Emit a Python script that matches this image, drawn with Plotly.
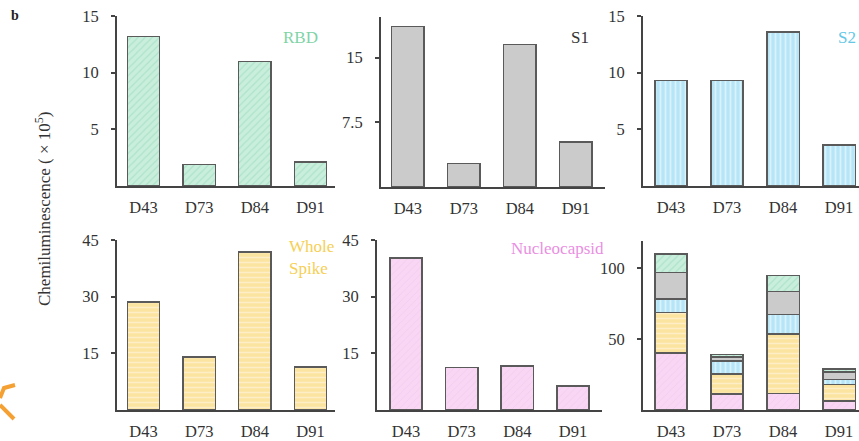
import plotly.graph_objects as go

# ---------------- data ----------------
categories = ["D43", "D73", "D84", "D91"]
rbd = [13.2, 1.9, 11.0, 2.1]
s1 = [18.6, 2.7, 16.5, 5.2]
s2 = [9.3, 9.3, 13.6, 3.6]
whole_spike = [28.6, 14.0, 41.8, 11.4]
nucleocapsid = [40.2, 11.2, 11.7, 6.4]

ticks_rbd = [5, 10, 15]
ticks_s1 = [7.5, 15]
ticks_s2 = [5, 10, 15]
ticks_ws = [15, 30, 45]
ticks_n = [15, 30, 45]
ticks_total = [50, 100]

W, H = 859, 441
FONT = "Liberation Serif"


def px(x):
    return x / W


def py(y):
    return 1 - y / H


styles = {
    "RBD": dict(bg="#c9efdc", fg="#93d6b5", shape="/", size=5, sol=0.25),
    "S1": dict(bg="#cbcbcb", fg="#cbcbcb", shape="", size=6, sol=0.2),
    "S2": dict(bg="#b5e5f6", fg="#ffffff", shape="|", size=5, sol=0.35),
    "WS": dict(bg="#fbe3a0", fg="#fffaf0", shape="-", size=5, sol=0.3),
    "N": dict(bg="#f8d6f4", fg="#efc2ea", shape="/", size=5, sol=0.15),
}


def bar(name, vals, key, xa, ya):
    st = styles[key]
    return go.Bar(
        x=categories, y=vals, name=name, xaxis=xa, yaxis=ya, width=0.58,
        showlegend=False,
        marker=dict(
            color=st["bg"],
            line=dict(color="#5a5a5a", width=1.5),
            pattern=dict(shape=st["shape"], fgcolor=st["fg"], bgcolor=st["bg"],
                         size=st["size"], solidity=st["sol"], fillmode="overlay"),
        ),
    )


fig = go.Figure()
fig.add_trace(bar("RBD", rbd, "RBD", "x", "y"))
fig.add_trace(bar("S1", s1, "S1", "x2", "y2"))
fig.add_trace(bar("S2", s2, "S2", "x3", "y3"))
fig.add_trace(bar("Whole Spike", whole_spike, "WS", "x4", "y4"))
fig.add_trace(bar("Nucleocapsid", nucleocapsid, "N", "x5", "y5"))
# stacked panel: bottom -> top
fig.add_trace(bar("Nucleocapsid", nucleocapsid, "N", "x6", "y6"))
fig.add_trace(bar("Whole Spike", whole_spike, "WS", "x6", "y6"))
fig.add_trace(bar("S2", s2, "S2", "x6", "y6"))
fig.add_trace(bar("S1", s1, "S1", "x6", "y6"))
fig.add_trace(bar("RBD", rbd, "RBD", "x6", "y6"))

axis_common = dict(showgrid=False, zeroline=False, showline=True, linecolor="#444",
                   linewidth=2, ticks="outside", tickcolor="#444", ticklen=4, tickwidth=1.5,
                   tickfont=dict(family=FONT, size=16.5, color="#333"), automargin=False)

panels = [
    # (xdomain px, ydomain px (bottom, top), xrange, yrange, yticks)
    ((117, 335), (186, 16), [-0.476, 3.44], [0, 15], ticks_rbd),
    ((381, 605), (187, 17), [-0.48, 3.52], [0, 19.7], ticks_s1),
    ((643, 859), (186, 16), [-0.5, 3.357], [0, 15], ticks_s2),
    ((117, 335), (410, 240), [-0.476, 3.44], [0, 45], ticks_ws),
    ((377, 602), (410, 240), [-0.52, 3.52], [0, 45], ticks_n),
    ((643, 859), (410, 241), [-0.5, 3.357], [0, 119], ticks_total),
]

layout = {}
for i, (xd, yd, xr, yr, yt) in enumerate(panels, start=1):
    sfx = "" if i == 1 else str(i)
    layout["xaxis" + sfx] = dict(axis_common, domain=[px(xd[0]), px(xd[1])], range=xr,
                                 anchor="y" + sfx, type="category", ticks="", ticklabelstandoff=5)
    layout["yaxis" + sfx] = dict(axis_common, domain=[py(yd[0]), py(yd[1])], range=yr,
                                 anchor="x" + sfx, tickvals=yt, ticklabelstandoff=9,
                                 ticktext=[("%g" % v) for v in yt])

fig.update_layout(**layout)

annos = [
    dict(x=px(300), y=py(38), text="RBD", font=dict(color="#7fd4a6", size=17)),
    dict(x=px(580), y=py(37), text="S1", font=dict(color="#333333", size=17)),
    dict(x=px(847), y=py(37), text="S2", font=dict(color="#62c8e6", size=17)),
    dict(x=px(287), y=py(257), text="Whole<br>Spike", align="left", xanchor="left",
         font=dict(color="#f6cf55", size=17)),
    dict(x=px(557), y=py(249), text="Nucleocapsid", font=dict(color="#ea8fe2", size=17)),
    dict(x=px(15), y=py(16), text="<b>b</b>", font=dict(color="#222", size=14)),
    dict(x=px(43), y=py(209), text="Chemiluminescence ( × 10<sup>5</sup>)", textangle=-90,
         font=dict(color="#333", size=17)),
]
for a in annos:
    a.setdefault("xanchor", "center")
    a.update(xref="paper", yref="paper", showarrow=False, yanchor="middle")
    a["font"]["family"] = FONT
    fig.add_annotation(**a)

# orange stroke fragment at the lower-left edge
fig.add_shape(type="path", xref="paper", yref="paper",
              path=f"M {px(15)} {py(385)} L {px(4)} {py(388)} L {px(0)} {py(398)}",
              line=dict(color="#f5a033", width=4))
fig.add_shape(type="path", xref="paper", yref="paper",
              path=f"M {px(0)} {py(405)} L {px(14)} {py(419)}",
              line=dict(color="#f5a033", width=4))

fig.update_layout(
    width=W, height=H, barmode="stack",
    margin=dict(l=0, r=0, t=0, b=0),
    paper_bgcolor="white", plot_bgcolor="white",
    font=dict(family=FONT),
)

fig.write_html("out.html", config={"displayModeBar": False},
               post_script="document.body.style.margin='0';document.body.style.overflow='hidden';")
